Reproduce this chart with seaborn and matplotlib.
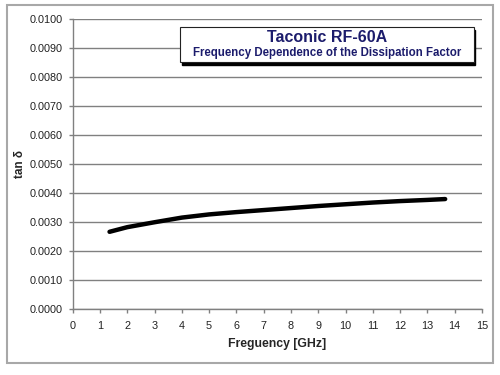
import numpy as np
import pandas as pd
import seaborn as sns
import matplotlib.pyplot as plt
from matplotlib.patches import Rectangle

# values
freq = [1.35, 2.0, 3.0, 4.0, 5.0, 6.0, 7.0, 8.0, 9.0, 10.0, 11.0, 12.0, 13.0, 13.65]
tand = [0.00265, 0.00281, 0.00298, 0.00314, 0.00325, 0.00333, 0.00340, 0.00347,
        0.00354, 0.00360, 0.00366, 0.00371, 0.00375, 0.00378]
xticks = list(range(0, 16))
yticks = [i / 10000 for i in range(0, 101, 10)]

df = pd.DataFrame({"freq": freq, "tand": tand})

sns.set_style("white")
plt.rcParams["font.family"] = ["Liberation Sans", "DejaVu Sans"]

fig = plt.figure(figsize=(5, 3.75), dpi=100)
ax = fig.add_axes([0.1454, 0.177, 0.8186, 0.773])

# outer frame of the chart
fig.patches.append(Rectangle((0.014, 0.032), 0.972, 0.955, transform=fig.transFigure,
                             fill=False, edgecolor="#a8a8a8", linewidth=1.5))

sns.lineplot(data=df, x="freq", y="tand", color="black", linewidth=3.2, ax=ax)

ax.set_xlim(0, 15)
ax.set_ylim(0, 0.0100)
ax.set_xticks(xticks)
ax.set_yticks(yticks)
ax.set_yticklabels([f"{v:.4f}" for v in yticks])
ax.yaxis.grid(True, color="#808080", linewidth=1)
ax.xaxis.grid(False)
for s in ["top", "right"]:
    ax.spines[s].set_visible(False)
for s in ["left", "bottom"]:
    ax.spines[s].set_color("#808080")
    ax.spines[s].set_linewidth(1)
ax.tick_params(axis="both", which="major", direction="out", length=3, width=1,
               color="#808080", labelsize=7.8, labelcolor="#222222", pad=4)
ax.tick_params(axis="y", left=True)
ax.tick_params(axis="x", bottom=True, pad=6)

ax.set_xlabel("Freguency [GHz]", fontsize=8.8, fontweight="bold", labelpad=5)
ax.set_ylabel("tan δ", fontsize=8.5, fontweight="bold")
ax.yaxis.set_label_coords(-0.115, 0.5)

# title box with shadow
bx, by, bw, bh = 0.262, 0.851, 0.718, 0.120
ax.add_patch(Rectangle((bx + 0.004, by - 0.009), bw, bh, transform=ax.transAxes,
                       facecolor="black", edgecolor="black", zorder=5, clip_on=False))
ax.add_patch(Rectangle((bx, by), bw, bh, transform=ax.transAxes,
                       facecolor="white", edgecolor="#222222", linewidth=0.8, zorder=6,
                       clip_on=False))
ax.text(bx + bw / 2, by + bh * 0.70, "Taconic RF-60A", transform=ax.transAxes,
        ha="center", va="center", fontsize=11.5, fontweight="bold", color="#1c1c6c",
        zorder=7)
ax.text(bx + bw / 2, by + bh * 0.26, "Frequency Dependence of the Dissipation Factor",
        transform=ax.transAxes, ha="center", va="center", fontsize=8.3,
        fontweight="bold", color="#1c1c6c", zorder=7)

plt.savefig("out.png", dpi=100)
